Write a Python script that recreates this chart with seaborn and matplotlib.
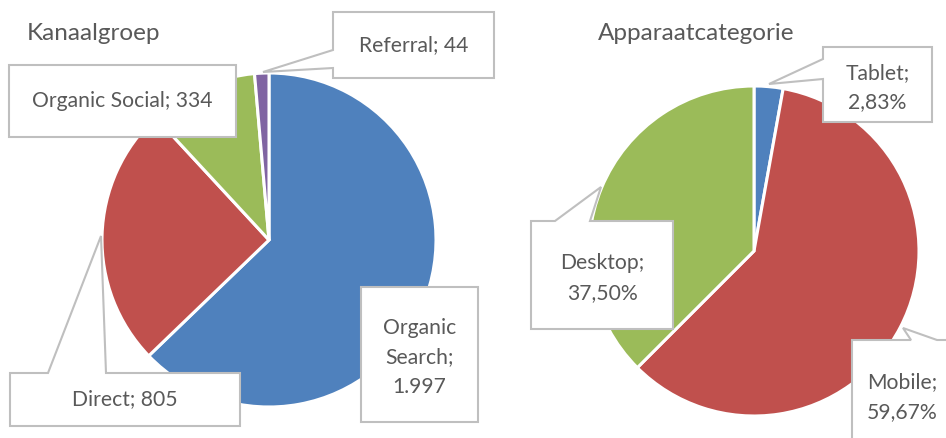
import numpy as np
import seaborn as sns
import matplotlib.pyplot as plt
from matplotlib.patches import Polygon

sns.set_style("white")
plt.rcParams["font.family"] = ["Lato", "DejaVu Sans"]

# data
kanaal_names = ["Organic Search", "Direct", "Organic Social", "Referral"]
kanaal_values = [1997, 805, 334, 44]
apparaat_names = ["Tablet", "Mobile", "Desktop"]
apparaat_pct = [2.83, 59.67, 37.50]

colors = sns.color_palette(["#4F81BD", "#C0504D", "#9BBB59", "#8064A2"])
TEXT = "#595959"
EDGE = "#BFBFBF"
W, H = 946, 438


def flip(y):
    return H - y


def nl_int(v):
    return f"{v:,}".replace(",", ".")


def nl_pct(v):
    return f"{v:.2f}%".replace(".", ",")


def callout(ax, box, text, ptr=None, side="left"):
    # box = (x0, y0, x1, y1) in image pixels, ptr = (a, b, px, py)
    x0, y0, x1, y1 = box
    pts = [(x0, y0)]
    if ptr is not None and side == "top":
        a, b, px, py = ptr
        pts += [(a, y0), (px, py), (b, y0)]
    pts += [(x1, y0), (x1, y1), (x0, y1)]
    if ptr is not None and side == "left":
        a, b, px, py = ptr
        pts += [(x0, b), (px, py), (x0, a)]
    poly = Polygon([(x, flip(y)) for x, y in pts], closed=True,
                   facecolor="white", edgecolor=EDGE, lw=1.5, zorder=3)
    ax.add_patch(poly)
    dy = 3 if "\n" in text else 0
    ax.text((x0 + x1) / 2, flip((y0 + y1) / 2 + dy), text, ha="center",
            va="center", color=TEXT, fontsize=15.2, linespacing=1.58, zorder=4)


fig = plt.figure(figsize=(W / 100, H / 100), dpi=100)
ax = fig.add_axes([0, 0, 1, 1])

wp = dict(edgecolor="white", linewidth=2.2)
ax.pie(kanaal_values, colors=colors, startangle=90, counterclock=False,
       center=(269, flip(240)), radius=167, wedgeprops=wp, frame=True)
ax.pie(apparaat_pct, colors=colors[:3], startangle=90, counterclock=False,
       center=(754, flip(251)), radius=165, wedgeprops=wp, frame=True)

ax.set_xlim(0, W)
ax.set_ylim(0, H)
ax.set_aspect("equal")
ax.axis("off")

ax.text(27, flip(33), "Kanaalgroep", ha="left", va="center", color=TEXT, fontsize=17.5)
ax.text(598, flip(33), "Apparaatcategorie", ha="left", va="center", color=TEXT, fontsize=17.5)

lab = [f"{n}; {nl_int(v)}" for n, v in zip(kanaal_names, kanaal_values)]
callout(ax, (361, 287, 478, 422), lab[0].replace(" ", "\n"))
callout(ax, (10, 373, 240, 426), lab[1], (48, 106, 101, 236), side="top")
callout(ax, (9, 65, 236, 137), lab[2])
callout(ax, (333, 12, 494, 78), lab[3], (50, 68, 263, 72), side="left")

lab2 = [f"{n};\n{nl_pct(v)}" for n, v in zip(apparaat_names, apparaat_pct)]
callout(ax, (823, 47, 932, 122), lab2[0], (59, 79, 769, 84), side="left")
callout(ax, (852, 340, 952, 448), lab2[1], (911, 937, 903, 328), side="top")
callout(ax, (531, 221, 673, 329), lab2[2], (555, 590, 601, 187), side="top")

fig.savefig("out.png", dpi=100)
